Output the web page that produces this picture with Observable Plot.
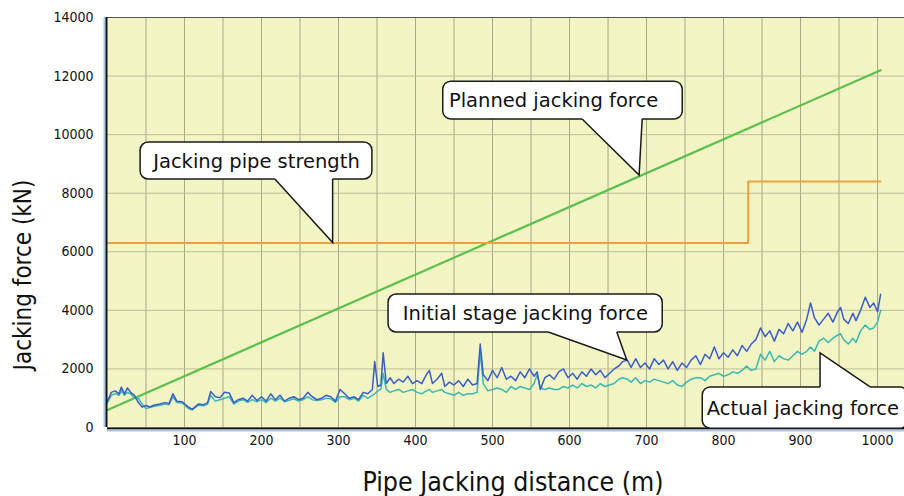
<!DOCTYPE html>
<html><head><meta charset="utf-8">
<script src="https://cdn.jsdelivr.net/npm/d3@7"></script>
<script src="https://cdn.jsdelivr.net/npm/@observablehq/plot@0.6"></script>
<style>body{margin:0;background:#fff;overflow:hidden}</style>
</head><body><div id="chart"></div>
<script>
// Pipe jacking distance (m) for the measured series
const distance = [0,5,10,15,18,22,26,30,35,40,45,50,55,60,68,75,80,85,90,97,105,110,118,125,130,134,140,146,152,158,164,170,176,182,188,194,200,206,212,218,224,230,236,242,248,254,260,266,272,278,284,290,296,302,308,314,320,326,332,338,344,347,351,355,358,362,367,372,378,384,390,396,402,408,414,418,422,428,434,438,444,450,456,462,468,474,480,484,488,494,500,506,512,518,524,530,536,542,548,554,558,562,568,574,580,586,592,598,604,610,616,622,628,634,640,646,652,658,664,669,675,680,686,692,698,704,710,716,722,728,734,740,746,752,758,764,770,776,782,788,794,800,806,812,818,824,830,836,842,848,854,860,866,872,878,884,890,896,902,908,913,918,924,930,936,942,948,952,956,962,968,972,978,984,990,995,1000,1004];
// Initial stage jacking force (kN)
const initialForce = [900,1200,1250,1150,1380,1150,1350,1200,1100,850,700,750,700,760,800,850,820,1150,900,880,700,620,800,780,850,1230,1050,1020,1200,1180,850,950,1000,900,1100,920,1050,900,1150,950,1100,900,1000,1050,950,1000,1200,1050,950,1000,1100,1050,900,1300,1150,1000,1050,950,1200,1150,1300,2250,1400,1450,2550,1500,1700,1500,1650,1550,1750,1500,1600,1500,1800,1950,1500,1650,1850,1400,1550,1450,1600,1400,1650,1450,1500,2850,1800,1600,1950,1700,2050,1650,1750,1600,1900,1700,2000,1750,1900,1300,1700,1800,1650,1900,2000,1700,1850,1650,1900,1750,2000,1800,1950,1700,1850,2000,2100,2250,2300,2050,2350,2050,2200,2000,2350,2150,2300,2000,2250,1950,2200,2050,2300,2450,2150,2500,2350,2750,2350,2550,2400,2650,2450,2800,2600,2850,3000,3400,3100,3300,2950,3350,3200,3550,3300,3600,3250,3700,4250,3750,3500,3700,3900,3600,3950,4100,3700,3550,3900,3650,4000,4450,4100,4250,3950,4550];
// Actual jacking force (kN)
const actualForce = [850,1100,1150,1100,1250,1100,1200,1150,1000,1000,800,650,680,720,760,800,780,1050,850,840,650,600,760,740,800,1100,900,950,1000,1050,800,900,950,860,950,880,950,850,1000,900,1000,880,930,980,900,950,1050,950,920,950,1000,980,860,1050,1050,950,1000,900,1100,1000,1100,1150,1250,1300,1850,1300,1200,1250,1300,1200,1250,1300,1200,1150,1250,1300,1200,1250,1300,1200,1150,1100,1200,1100,1150,1150,1200,2600,1500,1250,1300,1350,1300,1200,1400,1300,1400,1350,1300,1500,1800,1350,1300,1350,1300,1300,1400,1350,1450,1350,1500,1400,1450,1350,1500,1400,1450,1500,1650,1700,1650,1550,1700,1500,1600,1550,1650,1600,1550,1500,1600,1450,1400,1550,1650,1700,1700,1600,1750,1800,1850,1750,1800,1900,1850,1950,2100,1950,2000,2500,2300,2600,2250,2450,2350,2300,2450,2600,2500,2600,2750,2600,2950,3050,2900,3050,3150,3200,3000,2850,3050,2900,3300,3500,3350,3400,3600,4000];
// Planned jacking force (kN)
const plannedDistance = [0, 1004];
const plannedForce = [600, 12200];
// Jacking pipe strength (kN)
const strengthDistance = [0, 832, 832, 1004];
const strengthForce = [6300, 6300, 8400, 8400];
// Axis ticks
const xTickLabels = [100,200,300,400,500,600,700,800,900,1000];
const xGridValues = [50,100,150,200,250,300,350,400,450,500,550,600,650,700,750,800,850,900,950,1000,1050];
const yTickLabels = [0,2000,4000,6000,8000,10000,12000,14000];
const xTitle = "Pipe Jacking distance (m)";
const yTitle = "Jacking force (kN)";
// Callout annotations (data coordinates)
const calloutLabels = ["Jacking pipe strength","Planned jacking force","Initial stage jacking force","Actual jacking force"];
const calloutBoxX = [[43,344],[436,747],[365,721],[773,1040]];
const calloutBoxY = [[8470,9730],[10520,11810],[3245,4540],[-40,1370]];
const calloutTextX = [60,444,384,779];
const calloutTailBase = [[218,293],[617,695],[573,662],[926,991]];
const calloutTip = [[293,6300],[691,8600],[675,2290],[926,2530]];

const series = (xs, ys) => xs.map((d, i) => ({d, f: ys[i]}));
const initial = series(distance, initialForce);
const actual = series(distance, actualForce);
const planned = series(plannedDistance, plannedForce);
const strength = series(strengthDistance, strengthForce);
const callouts = calloutLabels.map((label, i) => ({label, bx: calloutBoxX[i], by: calloutBoxY[i], tx: calloutTextX[i], base: calloutTailBase[i], tip: calloutTip[i]}));

const condensed = "'DejaVu Sans Condensed', 'DejaVu Sans', sans-serif";

function calloutMark(index, scales) {
  const {x, y} = scales;
  const g = d3.create("svg:g");
  for (const c of callouts) {
    const x0 = x(c.bx[0]), x1 = x(c.bx[1]);
    const yt = y(c.by[1]), yb = y(c.by[0]);
    g.append("rect").attr("x", x0).attr("y", yt).attr("width", x1 - x0).attr("height", yb - yt)
      .attr("rx", 8).attr("fill", "#fff").attr("stroke", "#1a1a1a").attr("stroke-width", 1.5);
    const tx = x(c.tip[0]), ty = y(c.tip[1]);
    const bl = x(c.base[0]), br = x(c.base[1]);
    const downward = ty > yb;
    const by = downward ? yb : yt;
    const inset = downward ? -3 : 3;
    g.append("path").attr("d", `M${bl},${by + inset}L${bl},${by}L${tx},${ty}L${br},${by}L${br},${by + inset}Z`)
      .attr("fill", "#fff").attr("stroke", "none");
    g.append("path").attr("d", `M${bl},${by}L${tx},${ty}L${br},${by}`)
      .attr("fill", "none").attr("stroke", "#1a1a1a").attr("stroke-width", 1.5).attr("stroke-linejoin", "miter");
    g.append("text").attr("x", x(c.tx)).attr("y", (yt + yb) / 2).attr("dy", "0.36em")
      .attr("text-anchor", "start")
      .attr("font-family", "DejaVu Sans, Verdana, sans-serif").attr("font-size", 19.5).attr("fill", "#111")
      .text(c.label);
  }
  return g.node();
}

function axisTitles(index, scales, values, dimensions) {
  const {height, marginTop, marginBottom} = dimensions;
  const g = d3.create("svg:g").attr("fill", "#111").attr("font-family", condensed);
  g.append("text").attr("x", 513).attr("y", height - marginBottom + 54).attr("dy", "0.36em")
    .attr("text-anchor", "middle").attr("font-size", 26.5).text(xTitle);
  g.append("text").attr("transform", `translate(22,${marginTop + 258}) rotate(-90)`).attr("dy", "0.36em")
    .attr("text-anchor", "middle").attr("font-size", 24).text(yTitle);
  return g.node();
}

const chart = Plot.plot({
  width: 904,
  height: 496,
  marginLeft: 107,
  marginRight: 0,
  marginTop: 17,
  marginBottom: 69,
  style: {background: "transparent", overflow: "visible"},
  x: {domain: [0, 1035], axis: null},
  y: {domain: [0, 14000], axis: null},
  marks: [
    Plot.frame({fill: "#f3f4c4", stroke: "none"}),
    Plot.ruleX(xGridValues, {stroke: "#a8a88a", strokeWidth: 1}),
    Plot.ruleY(yTickLabels, {stroke: "#bdbd98", strokeWidth: 1}),
    Plot.ruleY([14000], {stroke: "#555", strokeWidth: 1}),
    Plot.line(planned, {x: "d", y: "f", stroke: "#5cc04c", strokeWidth: 2.2}),
    Plot.line(strength, {x: "d", y: "f", stroke: "#e9a23e", strokeWidth: 2}),
    Plot.line(actual, {x: "d", y: "f", stroke: "#3bb8b4", strokeWidth: 1.5}),
    Plot.line(initial, {x: "d", y: "f", stroke: "#3a5ec8", strokeWidth: 1.5}),
    Plot.ruleX([0], {stroke: "#a9c6e2", strokeWidth: 2, dx: -3}),
    Plot.ruleX([0], {stroke: "#111", strokeWidth: 2, dx: -1}),
    Plot.ruleY([0], {stroke: "#111", strokeWidth: 2, dy: 1}),
    Plot.ruleY([0], {stroke: "#a9c6e2", strokeWidth: 2, dy: 3}),
    calloutMark,
    Plot.text(xTickLabels, {x: d => d, frameAnchor: "bottom", dy: 17, text: d => String(d), fontSize: 14, fill: "#111", fontFamily: condensed}),
    Plot.text(yTickLabels, {y: d => d, frameAnchor: "left", dx: -14, textAnchor: "end", text: d => String(d), fontSize: 14, fill: "#111", fontFamily: condensed}),
    axisTitles
  ]
});
document.getElementById("chart").appendChild(chart);
</script>
</body></html>
